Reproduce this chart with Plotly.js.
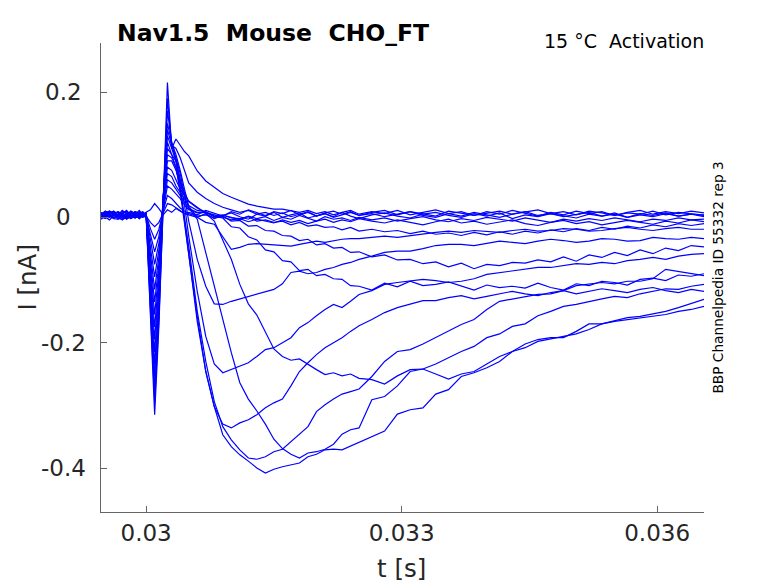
<!DOCTYPE html>
<html>
<head>
<meta charset="utf-8">
<script src="https://cdn.plot.ly/plotly-3.0.1.min.js"></script>
<style>
  body { margin: 0; background: #fff; }
  #chart { width: 778px; height: 583px; }
</style>
</head>
<body>
<div id="chart"></div>
<script>
/* Nav1.5 activation sweeps */

var t = [0.02947, 0.02952, 0.02957, 0.02962, 0.02967, 0.02972, 0.02977, 0.02982, 0.02987, 0.02992, 0.02996, 0.03,
  0.03005, 0.0301, 0.03015, 0.0302, 0.03025, 0.0303, 0.03035, 0.0304, 0.03045,
  0.0305, 0.0306, 0.0307, 0.0308, 0.0309, 0.031, 0.0311, 0.0312, 0.0313, 0.0314,
  0.0315, 0.0316, 0.0317, 0.0318, 0.0319, 0.032, 0.0321, 0.0322, 0.0323, 0.0324, 0.0325,
  0.03265, 0.0328, 0.03295, 0.0331, 0.03325, 0.0334, 0.03355, 0.0337, 0.03385, 0.034,
  0.03415, 0.0343, 0.03445, 0.0346, 0.03475, 0.0349, 0.03505, 0.0352, 0.03535, 0.0355,
  0.03565, 0.0358, 0.03595, 0.0361, 0.03625, 0.0364, 0.03655];

// current in nA, one array per sweep
var sweep01 = [0.006, 0.009, 0.002, -0.001, 0.004, 0.010, 0.007, 0.001, 0.005, 0.011, 0.003, 0.008,
  0.012, 0.022, 0.014, 0.004, 0.012, 0.008, 0.014, 0.01, 0.006,
  0.008, 0.004, 0.011, 0.006, 0.002, 0.009, 0.005, 0.012, 0.007, 0.003, 0.009, 0.006, 0.011, 0.004, 0.008, 0.002, 0.007, 0.010, 0.005, 0.009, 0.003,
  0.008, 0.011, 0.004, 0.009, 0.006, 0.002, 0.010, 0.007, 0.003, 0.009, 0.005, 0.011, 0.006, 0.002, 0.008, 0.004, 0.010, 0.006, 0.009, 0.003, 0.007, 0.005, 0.010, 0.004, 0.008, 0.006, 0.003];
var sweep02 = [-0.003, 0.001, 0.006, 0.008, 0.002, -0.004, 0.0, 0.007, 0.004, -0.002, 0.005, 0.002,
  -0.008, -0.015, -0.008, 0.008, 0.022, 0.02, 0.015, 0.01, 0.006,
  0.004, 0.0, 0.006, -0.002, 0.003, 0.007, 0.001, -0.003, 0.005, 0.002, 0.008, 0.0, 0.004, 0.007, -0.001, 0.003, 0.006, 0.001, 0.008, 0.002, -0.002,
  0.004, 0.007, 0.002, -0.001, 0.005, 0.008, 0.003, 0.0, 0.006, 0.002, 0.007, -0.002, 0.004, 0.001, 0.006, 0.003, -0.001, 0.005, 0.002, 0.007, 0.0, 0.004, 0.001, 0.006, 0.002, 0.005, 0.001];
var sweep03 = [0.002, 0.009, 0.004, -0.002, -0.003, 0.006, 0.010, 0.003, -0.001, 0.004, 0.008, 0.004,
  -0.018, -0.035, -0.019, 0.01, 0.035, 0.03, 0.022, 0.015, 0.01,
  0.006, 0.002, 0.004, -0.001, 0.003, 0.0, -0.004, 0.002, -0.002, 0.001, -0.005, 0.0, -0.003, 0.003, -0.002, -0.006, 0.001, -0.003, -0.001, -0.005, 0.0,
  -0.004, -0.001, -0.006, -0.002, 0.001, -0.004, -0.007, -0.002, -0.005, 0.0, -0.003, -0.006, -0.001, -0.004, -0.008, -0.003, -0.006, -0.002, -0.005, -0.001, -0.004, -0.007, -0.003, -0.005, -0.001, -0.004, -0.003];
var sweep04 = [0.005, 0.0, -0.004, 0.003, 0.009, 0.006, 0.001, -0.002, 0.006, 0.008, 0.002, 0.001,
  -0.028, -0.055, -0.03, 0.012, 0.05, 0.045, 0.038, 0.03, 0.02,
  0.012, 0.007, 0.008, 0.002, 0.004, -0.001, -0.002, 0.001, -0.006, -0.004, -0.008, -0.006, -0.012, -0.008, -0.014, -0.012, -0.016, -0.015, -0.020, -0.016, -0.022,
  -0.019, -0.023, -0.021, -0.026, -0.022, -0.027, -0.025, -0.029, -0.024, -0.028, -0.023, -0.027, -0.022, -0.025, -0.020, -0.023, -0.018, -0.021, -0.016, -0.019, -0.014, -0.017, -0.012, -0.015, -0.010, -0.013, -0.010];
var sweep05 = [-0.002, 0.004, 0.010, 0.007, 0.001, 0.005, -0.003, 0.002, 0.009, 0.004, 0.0, 0.005,
  -0.038, -0.075, -0.041, 0.015, 0.06, 0.055, 0.045, 0.035, 0.025,
  0.014, 0.008, 0.008, 0.001, 0.002, -0.006, -0.005, -0.014, -0.013, -0.021, -0.022, -0.029, -0.030, -0.037, -0.035, -0.044, -0.042, -0.049, -0.048, -0.056, -0.055,
  -0.063, -0.060, -0.068, -0.067, -0.074, -0.071, -0.079, -0.073, -0.082, -0.075, -0.077, -0.072, -0.073, -0.068, -0.071, -0.063, -0.070, -0.060, -0.064, -0.056, -0.061, -0.052, -0.058, -0.049, -0.053, -0.045, -0.047];
var sweep06 = [0.003, 0.008, 0.001, 0.005, -0.001, -0.004, 0.004, 0.010, 0.006, -0.002, 0.002, 0.003,
  -0.048, -0.095, -0.052, 0.02, 0.07, 0.065, 0.05, 0.04, 0.03,
  0.019, 0.011, 0.009, 0.001, -0.001, -0.015, -0.017, -0.031, -0.036, -0.052, -0.055, -0.069, -0.071, -0.085, -0.083, -0.093, -0.091, -0.098, -0.099, -0.109, -0.110,
  -0.116, -0.105, -0.111, -0.102, -0.109, -0.107, -0.103, -0.110, -0.116, -0.108, -0.112, -0.110, -0.113, -0.105, -0.112, -0.116, -0.106, -0.109, -0.102, -0.104, -0.108, -0.099, -0.097, -0.101, -0.092, -0.094, -0.090];
var sweep07 = [0.008, 0.003, 0.0, 0.006, 0.009, 0.002, -0.002, 0.005, 0.001, 0.007, 0.009, 0.004,
  -0.058, -0.115, -0.063, 0.02, 0.08, 0.075, 0.06, 0.045, 0.035,
  0.026, 0.016, 0.006, -0.006, -0.038, -0.067, -0.107, -0.138, -0.156, -0.182, -0.210, -0.222, -0.228, -0.226, -0.235, -0.243, -0.251, -0.248, -0.253, -0.250, -0.257,
  -0.259, -0.266, -0.253, -0.243, -0.242, -0.250, -0.258, -0.250, -0.246, -0.234, -0.222, -0.214, -0.208, -0.198, -0.194, -0.190, -0.186, -0.179, -0.170, -0.166, -0.163, -0.160, -0.157, -0.155, -0.150, -0.147, -0.142];
var sweep08 = [0.001, -0.002, 0.005, 0.009, 0.003, 0.007, -0.003, 0.002, 0.009, 0.006, 0.0, 0.002,
  -0.068, -0.135, -0.074, 0.03, 0.09, 0.09, 0.075, 0.055, 0.035,
  0.015, -0.003, -0.056, -0.110, -0.163, -0.216, -0.264, -0.290, -0.309, -0.330, -0.354, -0.369, -0.378, -0.384, -0.376, -0.374, -0.370, -0.362, -0.346, -0.339, -0.336,
  -0.291, -0.286, -0.269, -0.246, -0.242, -0.234, -0.224, -0.214, -0.206, -0.192, -0.186, -0.174, -0.170, -0.157, -0.150, -0.142, -0.139, -0.134, -0.130, -0.126, -0.128, -0.122, -0.118, -0.114, -0.115, -0.110, -0.107];
var sweep09 = [0.004, 0.010, 0.006, 0.0, 0.003, 0.011, 0.005, -0.002, 0.001, 0.007, 0.008, 0.003,
  -0.078, -0.155, -0.085, 0.03, 0.10, 0.095, 0.08, 0.045, 0.0,
  -0.046, -0.150, -0.230, -0.294, -0.334, -0.355, -0.371, -0.384, -0.386, -0.382, -0.374, -0.370, -0.358, -0.347, -0.334, -0.310, -0.299, -0.290, -0.282, -0.278, -0.274,
  -0.254, -0.230, -0.214, -0.211, -0.202, -0.192, -0.182, -0.171, -0.163, -0.147, -0.134, -0.130, -0.126, -0.123, -0.122, -0.117, -0.109, -0.106, -0.104, -0.106, -0.102, -0.102, -0.098, -0.083, -0.086, -0.090, -0.093];
var sweep10 = [-0.001, 0.003, 0.009, 0.004, -0.003, 0.001, 0.007, 0.005, 0.0, 0.006, 0.004, 0.006,
  -0.088, -0.175, -0.096, 0.03, 0.11, 0.10, 0.09, 0.05, 0.0,
  -0.058, -0.166, -0.246, -0.302, -0.347, -0.366, -0.379, -0.389, -0.400, -0.408, -0.402, -0.398, -0.395, -0.392, -0.382, -0.378, -0.371, -0.370, -0.371, -0.365, -0.358,
  -0.350, -0.341, -0.314, -0.307, -0.304, -0.282, -0.275, -0.254, -0.248, -0.240, -0.230, -0.214, -0.202, -0.195, -0.192, -0.192, -0.182, -0.170, -0.170, -0.165, -0.160, -0.158, -0.154, -0.150, -0.144, -0.138, -0.131];
var sweep11 = [0.006, 0.002, 0.004, 0.009, 0.007, 0.0, 0.003, 0.009, 0.002, -0.001, 0.005, 0.001,
  -0.098, -0.195, -0.107, 0.03, 0.12, 0.10, 0.08, 0.04, -0.01,
  -0.054, -0.158, -0.246, -0.302, -0.330, -0.336, -0.328, -0.323, -0.315, -0.304, -0.296, -0.290, -0.269, -0.246, -0.232, -0.219, -0.208, -0.200, -0.192, -0.182, -0.173,
  -0.163, -0.152, -0.144, -0.138, -0.133, -0.133, -0.128, -0.125, -0.130, -0.126, -0.122, -0.118, -0.122, -0.125, -0.120, -0.117, -0.122, -0.118, -0.114, -0.117, -0.120, -0.115, -0.112, -0.117, -0.120, -0.115, -0.118];
var sweep12 = [0.002, -0.001, 0.008, 0.004, 0.001, 0.007, 0.010, 0.002, 0.006, 0.0, 0.003, 0.007,
  -0.108, -0.215, -0.118, 0.03, 0.13, 0.11, 0.09, 0.06, 0.02,
  -0.030, -0.118, -0.190, -0.234, -0.248, -0.243, -0.238, -0.232, -0.222, -0.211, -0.208, -0.200, -0.192, -0.176, -0.168, -0.157, -0.147, -0.139, -0.144, -0.134, -0.123,
  -0.117, -0.107, -0.104, -0.101, -0.099, -0.101, -0.104, -0.102, -0.098, -0.091, -0.088, -0.086, -0.083, -0.080, -0.080, -0.077, -0.074, -0.075, -0.072, -0.074, -0.069, -0.067, -0.064, -0.067, -0.062, -0.059, -0.058];
var sweep13 = [0.005, 0.008, 0.002, -0.002, 0.004, 0.006, 0.001, 0.008, 0.003, 0.007, 0.004, 0.002,
  -0.118, -0.235, -0.129, 0.03, 0.14, 0.115, 0.095, 0.07, 0.035,
  -0.006, -0.067, -0.110, -0.138, -0.139, -0.134, -0.130, -0.126, -0.122, -0.118, -0.115, -0.106, -0.088, -0.086, -0.090, -0.088, -0.083, -0.080, -0.075, -0.072, -0.067,
  -0.062, -0.056, -0.054, -0.054, -0.050, -0.045, -0.043, -0.043, -0.045, -0.042, -0.038, -0.040, -0.042, -0.038, -0.035, -0.037, -0.040, -0.038, -0.034, -0.035, -0.038, -0.037, -0.032, -0.034, -0.035, -0.032, -0.034];
var sweep14 = [0.0, 0.006, 0.009, 0.003, 0.005, -0.002, 0.002, 0.009, 0.006, 0.001, 0.003, 0.008,
  -0.128, -0.255, -0.14, 0.025, 0.15, 0.12, 0.10, 0.075, 0.045,
  0.018, 0.0, -0.008, -0.011, -0.030, -0.051, -0.048, -0.043, -0.042, -0.043, -0.045, -0.046, -0.046, -0.043, -0.040, -0.038, -0.040, -0.037, -0.035, -0.034, -0.034,
  -0.032, -0.030, -0.032, -0.029, -0.026, -0.024, -0.022, -0.024, -0.021, -0.022, -0.024, -0.021, -0.019, -0.022, -0.021, -0.018, -0.019, -0.022, -0.021, -0.018, -0.016, -0.019, -0.021, -0.018, -0.016, -0.019, -0.019];
var sweep15 = [0.004, 0.001, 0.007, 0.010, 0.002, 0.005, 0.011, 0.004, -0.001, 0.003, 0.008, 0.002,
  -0.138, -0.275, -0.151, 0.03, 0.17, 0.12, 0.09, 0.06, 0.04,
  0.025, 0.015, 0.008, 0.004, 0.0, -0.004, -0.002, -0.007, -0.003, -0.006, -0.009, -0.004, -0.008, -0.005, -0.010, -0.006, -0.003, -0.008, -0.004, -0.007, -0.002,
  -0.006, -0.009, -0.004, -0.008, -0.012, -0.007, -0.003, -0.009, -0.006, -0.011, -0.007, -0.004, -0.010, -0.013, -0.008, -0.005, -0.010, -0.007, -0.012, -0.009, -0.005, -0.008, -0.011, -0.006, -0.009, -0.004, -0.007];
var sweep16 = [0.007, 0.004, 0.0, 0.006, 0.008, 0.002, 0.005, 0.0, 0.004, 0.009, 0.006, 0.006,
  -0.148, -0.295, -0.162, 0.03, 0.19, 0.115, 0.11, 0.095, 0.075,
  0.055, 0.040, 0.030, 0.022, 0.016, 0.012, 0.008, 0.011, 0.005, 0.008, 0.003, 0.007, 0.001, 0.005, 0.009, 0.002, 0.006, 0.0, 0.004, 0.008, 0.003,
  0.006, 0.001, 0.005, 0.009, 0.003, 0.0, 0.006, 0.002, 0.008, 0.004, 0.0, 0.005, 0.009, 0.003, 0.006, 0.001, 0.004, 0.008, 0.002, 0.005, 0.0, 0.006, 0.003, 0.007, 0.002, 0.005, 0.004];
var sweep17 = [0.003, 0.008, 0.010, 0.004, 0.002, 0.007, 0.001, 0.005, 0.009, 0.006, 0.002, 0.004,
  -0.158, -0.315, -0.173, 0.03, 0.215, 0.11, 0.125, 0.115, 0.105,
  0.098, 0.074, 0.058, 0.048, 0.038, 0.032, 0.027, 0.021, 0.018, 0.016, 0.013, 0.013, 0.010, 0.008, 0.011, 0.006, 0.009, 0.004, 0.008, 0.011, 0.005,
  0.009, 0.006, 0.011, 0.004, 0.008, 0.012, 0.006, 0.009, 0.003, 0.007, 0.010, 0.005, 0.008, 0.012, 0.006, 0.009, 0.004, 0.010, 0.007, 0.003, 0.008, 0.011, 0.005, 0.009, 0.006, 0.010, 0.007];

var sweeps = [sweep01, sweep02, sweep03, sweep04, sweep05, sweep06, sweep07, sweep08, sweep09,
  sweep10, sweep11, sweep12, sweep13, sweep14, sweep15, sweep16, sweep17];

var xTicks = [0.03, 0.033, 0.036];
var xTickText = ['0.03', '0.033', '0.036'];
var yTicks = [-0.4, -0.2, 0, 0.2];
var yTickText = ['-0.4', '-0.2', '0', '0.2'];

function drawChart() {
	var data = [];
	for (var i = 0; i < sweeps.length; i++) {
		data.push({
			x: t,
			y: sweeps[i],
			type: 'scatter',
			mode: 'lines',
			line: { color: '#0000ff', width: 1.2 },
			hoverinfo: 'skip'
		});
	}

	var axisColor = '#666666';
	var textColor = '#262626';

	var annotations = [{
		text: '<b>Nav1.5\u00a0\u00a0Mouse\u00a0\u00a0CHO_FT</b>',
		xref: 'paper', yref: 'paper',
		x: 0.0232, y: 1.0203,
		xanchor: 'left', yanchor: 'middle',
		showarrow: false,
		font: { size: 23.5, color: '#000000' }
	}, {
		text: '15 \u00b0C\u00a0\u00a0Activation',
		xref: 'paper', yref: 'paper',
		x: 1.003, y: 1.0043,
		xanchor: 'right', yanchor: 'middle',
		showarrow: false,
		font: { size: 19, color: '#000000' }
	}, {
		text: 'BBP Channelpedia ID 55332 rep 3',
		xref: 'paper', yref: 'paper',
		x: 1.0216, y: 0.5,
		xanchor: 'center', yanchor: 'middle',
		textangle: -90,
		showarrow: false,
		font: { size: 13.7, color: '#000000' }
	}, {
		text: 'I [nA]',
		xref: 'paper', yref: 'paper',
		x: -0.1211, y: 0.5,
		xanchor: 'center', yanchor: 'middle',
		textangle: -90,
		showarrow: false,
		font: { size: 24.5, color: textColor }
	}, {
		text: 't [s]',
		xref: 'paper', yref: 'paper',
		x: 0.4983, y: -0.1215,
		xanchor: 'center', yanchor: 'middle',
		showarrow: false,
		font: { size: 24.5, color: textColor }
	}];

	// y tick labels sit centred in the reference, so place them on the y scale
	for (var k = 0; k < yTicks.length; k++) {
		annotations.push({
			text: yTickText[k],
			xref: 'paper', yref: 'y',
			x: -0.0614, y: yTicks[k],
			xanchor: 'center', yanchor: 'middle',
			showarrow: false,
			font: { size: 23, color: textColor }
		});
	}

	var layout = {
		width: 778,
		height: 583,
		margin: { l: 101, r: 74, t: 43, b: 71 },
		paper_bgcolor: '#ffffff',
		plot_bgcolor: '#ffffff',
		showlegend: false,
		font: { family: 'DejaVu Sans', color: textColor },
		xaxis: {
			range: [0.02947, 0.03655],
			tickvals: xTicks,
			ticktext: xTickText,
			ticks: 'inside',
			ticklen: 6,
			tickcolor: axisColor,
			showline: true,
			linecolor: axisColor,
			linewidth: 1,
			showgrid: false,
			zeroline: false,
			tickfont: { size: 23, color: textColor },
			ticklabelstandoff: 0
		},
		yaxis: {
			range: [-0.4702, 0.2782],
			tickvals: yTicks,
			ticks: 'inside',
			ticklen: 6,
			tickcolor: axisColor,
			showline: true,
			linecolor: axisColor,
			linewidth: 1,
			showgrid: false,
			zeroline: false,
			showticklabels: false
		},
		annotations: annotations
	};

	Plotly.newPlot('chart', data, layout, { displayModeBar: false, staticPlot: true });
}

window.onload = drawChart;
</script>
</body>
</html>
